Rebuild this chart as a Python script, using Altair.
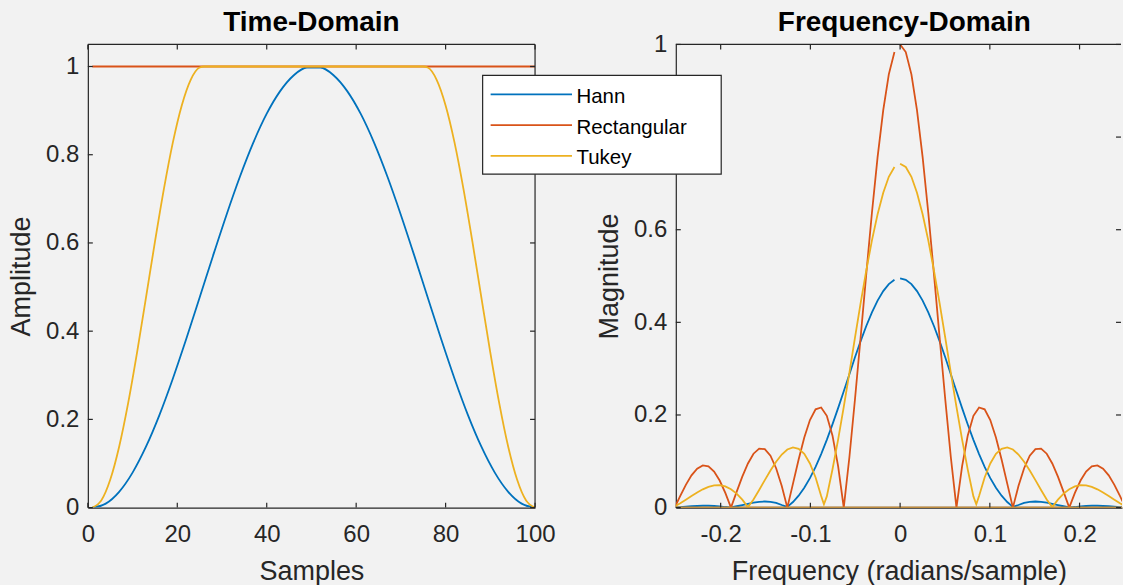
import altair as alt
import pandas as pd

SERIES = ["Hann", "Rectangular", "Tukey"]
COLORS = ["#0072BD", "#D95319", "#EDB120"]
PANEL_TITLES = ["Time-Domain", "Frequency-Domain"]
DARK = "#262626"
BG = "#f2f2f2"
FONT = "Liberation Sans"

# ---- time-domain windows (rising half; the falling half mirrors about n = 50.5)
hann_n = [1, 4, 7, 10, 13, 16, 19, 22, 25, 28, 31, 34, 37, 40, 43, 46, 49]
hann_w = [0.0, 0.0090, 0.0358, 0.0794, 0.1381, 0.2098, 0.2923, 0.3821, 0.4762,
          0.5712, 0.6635, 0.7500, 0.8274, 0.8930, 0.9442, 0.9797, 0.9977]
tukey_n = [1, 3, 5, 7, 9, 11, 13, 15, 17, 19, 21, 23, 25, 26]
tukey_w = [0.0, 0.0160, 0.0631, 0.1381, 0.2363, 0.3515, 0.4762, 0.6023, 0.7220,
           0.8274, 0.9118, 0.9699, 0.9977, 1.0]
rect_n = [1, 100]
rect_w = [1.0, 1.0]

# ---- frequency-domain magnitudes (positive half; spectrum is symmetric)
freq = [0.0, 0.0063, 0.0126, 0.0188, 0.0251, 0.0314, 0.0377, 0.0440, 0.0503, 0.0565,
        0.0628, 0.0691, 0.0754, 0.0817, 0.0880, 0.0942, 0.1005, 0.1068, 0.1131, 0.1194,
        0.1257, 0.1319, 0.1382, 0.1445, 0.1508, 0.1571, 0.1634, 0.1696, 0.1759, 0.1822,
        0.1885, 0.1948, 0.2011, 0.2073, 0.2136, 0.2199, 0.2262, 0.2325, 0.2388, 0.2450,
        0.2513, 0.2576]
hann_mag = [0.4950, 0.4919, 0.4826, 0.4675, 0.4470, 0.4216, 0.3921, 0.3594, 0.3245, 0.2881,
            0.2512, 0.2148, 0.1796, 0.1463, 0.1156, 0.0879, 0.0636, 0.0429, 0.0257, 0.0121,
            0.0017, 0.0056, 0.0103, 0.0126, 0.0132, 0.0124, 0.0106, 0.0082, 0.0056, 0.0030,
            0.0006, 0.0013, 0.0028, 0.0037, 0.0041, 0.0041, 0.0037, 0.0030, 0.0022, 0.0012,
            0.0003, 0.0005]
rect_mag = [1.0, 0.9836, 0.9355, 0.8584, 0.7568, 0.6366, 0.5046, 0.3679, 0.2339, 0.1093,
            0.0, 0.0894, 0.1559, 0.1981, 0.2162, 0.2122, 0.1892, 0.1515, 0.1039, 0.0518,
            0.0, 0.0468, 0.0851, 0.1120, 0.1261, 0.1273, 0.1164, 0.0954, 0.0668, 0.0339,
            0.0, 0.0317, 0.0585, 0.0780, 0.0890, 0.0910, 0.0841, 0.0696, 0.0492, 0.0252,
            0.0, 0.0241]
tukey_mag = [0.7425, 0.7354, 0.7142, 0.6798, 0.6335, 0.5769, 0.5121, 0.4413, 0.3669, 0.2914,
             0.2174, 0.1469, 0.0822, 0.0242, 0.0251, 0.0650, 0.0954, 0.1160, 0.1269, 0.1301,
             0.1255, 0.1146, 0.0990, 0.0801, 0.0594, 0.0381, 0.0176, 0.0011, 0.0173, 0.0303,
             0.0398, 0.0458, 0.0484, 0.0479, 0.0448, 0.0395, 0.0328, 0.0252, 0.0172, 0.0096,
             0.0026, 0.0034]
# extra samples at the first Tukey null
tukey_null_f = [0.0849]
tukey_null_mag = [0.007]
NYQUIST = 3.1416
nyquist_mag = [0.0, 0.0, 0.0]

time_ticks_x = [0, 20, 40, 60, 80, 100]
time_ticks_y = [0, 0.2, 0.4, 0.6, 0.8, 1]
freq_ticks_x = [-0.2, -0.1, 0, 0.1, 0.2]
freq_ticks_y = [0, 0.2, 0.4, 0.6, 0.8, 1]

W_L, W_R, H = 448, 447, 464
TICK = 5


def mirrored(ns, ws):
    left = list(zip(ns, ws))
    right = [(101 - n, w) for n, w in reversed(left) if 101 - n != n]
    return left + right


time_pts = {
    "Hann": mirrored(hann_n, hann_w),
    "Rectangular": list(zip(rect_n, rect_w)),
    "Tukey": mirrored(tukey_n, tukey_w),
}

# spectrum traced 0 -> Nyquist, wrapped to -Nyquist, then back towards 0
extras = {"Hann": [], "Rectangular": [], "Tukey": list(zip(tukey_null_f, tukey_null_mag))}
freq_pts = {}
for name, mags, nyq in zip(SERIES, [hann_mag, rect_mag, tukey_mag], nyquist_mag):
    pos = sorted(list(zip(freq, mags)) + extras[name])
    neg = [(-f, m) for f, m in reversed(pos[1:])]
    freq_pts[name] = pos + [(NYQUIST, nyq), (-NYQUIST, nyq)] + neg

label_expr = "replace(format(datum.value, '~g'), '\u2212', '-')"


def axis(values, title, is_x):
    common = dict(
        values=values, title=title, labelExpr=label_expr,
        labelFont=FONT, labelFontSize=24, labelColor=DARK,
        labelFlush=False, labelOverlap=False,
        ticks=False, tickSize=0, grid=False,
        domainColor=DARK, domainWidth=1.2,
        titleFont=FONT, titleFontSize=27, titleFontWeight="normal",
        titleColor=DARK, titleBaseline="alphabetic",
    )
    if is_x:
        return alt.Axis(labelPadding=15, titleY=72, **common)
    return alt.Axis(labelPadding=9, titleX=-58, **common)


one = pd.DataFrame({"k": [0]})


def rule(px=None, px2=None, py=None, py2=None, data=one, enc=None):
    e = {}
    for key, val in (("x", px), ("x2", px2), ("y", py), ("y2", py2)):
        if val is not None:
            e[key] = alt.value(val)
    if enc:
        e.update(enc)
    return alt.Chart(data).mark_rule(color=DARK, strokeWidth=1.2).encode(**e)


def panel(x_field, y_field, x_enc, y_enc, xt, yt, right_edge, pts, interp, title, title_x):
    layers = []
    for name, color in zip(SERIES, COLORS):
        df = pd.DataFrame(pts[name], columns=[x_field, y_field])
        df["i"] = range(len(df))
        layers.append(
            alt.Chart(df).mark_line(color=color, strokeWidth=1.8, clip=True,
                                    interpolate=interp)
            .encode(x=x_enc, y=y_enc, order="i:Q")
        )
    xdf = pd.DataFrame({x_field: xt})
    ydf = pd.DataFrame({y_field: yt})
    layers += [
        rule(py=H, py2=H - TICK, data=xdf, enc={"x": x_enc}),
        rule(py=0, py2=TICK, data=xdf, enc={"x": x_enc}),
        rule(px=0, px2=TICK, data=ydf, enc={"y": y_enc}),
        rule(px=right_edge, px2=right_edge - TICK, data=ydf, enc={"y": y_enc}),
        rule(px=0, px2=right_edge, py=0),
        alt.Chart(pd.DataFrame({"t": [title]})).mark_text(
            font=FONT, fontSize=28, fontWeight="bold", color="black",
            align="center", baseline="alphabetic"
        ).encode(x=alt.value(title_x), y=alt.value(-13), text="t:N"),
    ]
    return layers


# left panel: time domain
tx = alt.X("n:Q", scale=alt.Scale(domain=[0, 100], nice=False, zero=False),
           axis=axis(time_ticks_x, "Samples", True))
ty = alt.Y("w:Q", scale=alt.Scale(domain=[0, 1.05], nice=False, zero=False),
           axis=axis(time_ticks_y, "Amplitude", False))
left_layers = panel("n", "w", tx, ty, time_ticks_x, time_ticks_y, W_L, time_pts,
                    "monotone", PANEL_TITLES[0], W_L / 2)
left_layers.append(rule(px=W_L, py=0, py2=H))
left_layers.insert(0, alt.Chart(one).mark_rect(fill="transparent").encode(
    x=alt.value(-87), x2=alt.value(0), y=alt.value(-43), y2=alt.value(0)))
left = alt.layer(*left_layers).properties(width=W_L, height=H)

# right panel: frequency domain
fx = alt.X("f:Q", scale=alt.Scale(domain=[-0.25, 0.2473], nice=False, zero=False),
           axis=axis(freq_ticks_x, "Frequency (radians/sample)", True))
fy = alt.Y("mag:Q", scale=alt.Scale(domain=[0, 1], nice=False, zero=False),
           axis=axis(freq_ticks_y, "Magnitude", False))
right_layers = panel("f", "mag", fx, fy, freq_ticks_x, freq_ticks_y, W_R - 1, freq_pts,
                     "linear", PANEL_TITLES[1], 229)
right_layers.insert(0, alt.Chart(one).mark_rect(fill="transparent").encode(
    x=alt.value(0), x2=alt.value(10), y=alt.value(H), y2=alt.value(H + 78)))

# legend box drawn on top of both panels
right_layers.append(
    alt.Chart(one).mark_rect(fill="white", stroke=DARK, strokeWidth=1.2).encode(
        x=alt.value(-193.5), x2=alt.value(45.5), y=alt.value(31), y2=alt.value(130))
)
for row, (name, color) in enumerate(zip(SERIES, COLORS)):
    ly = 50 + row * 30.8
    right_layers.append(
        alt.Chart(one).mark_rule(color=color, strokeWidth=1.8).encode(
            x=alt.value(-185.5), x2=alt.value(-104), y=alt.value(ly))
    )
    right_layers.append(
        alt.Chart(pd.DataFrame({"label": [name]})).mark_text(
            font=FONT, fontSize=20.5, color="black", align="left", baseline="alphabetic"
        ).encode(x=alt.value(-99.5), y=alt.value(ly + 8.5), text="label:N")
    )
right = alt.layer(*right_layers).properties(width=W_R, height=H)

chart = (
    alt.hconcat(left, right, spacing=141, bounds="flush")
    .properties(background=BG, padding=0)
    .configure_view(stroke="transparent")
)

chart.save("out.html", embed_options={"renderer": "svg", "actions": False})
